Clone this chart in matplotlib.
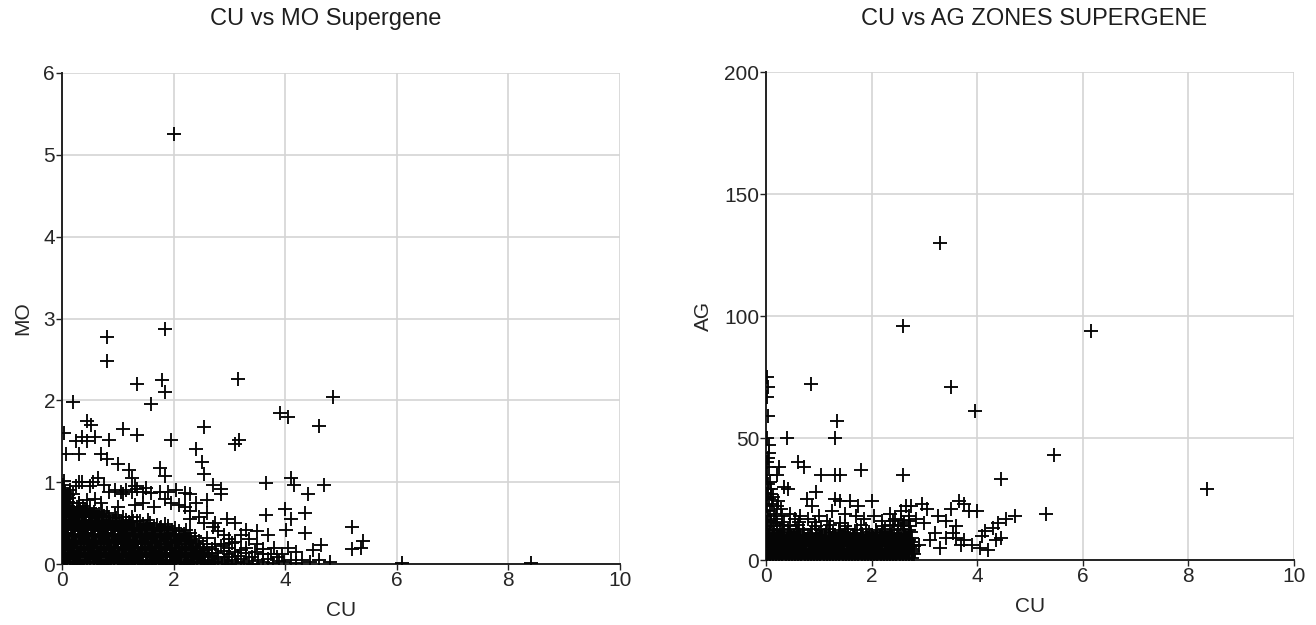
import matplotlib
matplotlib.use("Agg")
import matplotlib.pyplot as plt

# ---------------- data: CU vs MO (left) ----------------
mo_outliers = [
    (2.0, 5.25), (0.8, 2.78), (1.85, 2.87), (0.8, 2.48), (1.35, 2.2), (1.8, 2.25),
    (1.85, 2.1), (1.6, 1.96), (0.2, 1.98), (3.15, 2.26), (4.85, 2.04), (3.9, 1.84),
    (4.05, 1.8), (4.6, 1.69), (2.55, 1.68), (1.1, 1.65), (1.35, 1.58), (1.95, 1.52),
    (3.1, 1.47), (3.17, 1.52), (2.4, 1.41), (2.5, 1.25), (2.55, 1.1), (0.45, 1.75),
    (0.52, 1.7), (0.35, 1.55), (0.25, 1.5), (0.45, 1.5), (0.6, 1.55), (0.85, 1.52),
    (0.03, 1.6), (0.08, 1.35), (0.3, 1.35), (0.7, 1.35), (0.8, 1.28), (1.0, 1.22),
    (1.2, 1.15), (1.25, 1.05), (1.75, 1.17), (1.85, 1.07), (0.3, 1.0), (0.65, 1.05),
    (0.75, 0.97), (2.7, 0.97), (2.85, 0.92), (3.65, 0.99), (4.1, 1.05), (4.15, 0.96),
    (4.4, 0.85), (4.7, 0.97), (2.85, 0.85), (2.4, 0.75), (2.6, 0.78), (3.65, 0.6),
    (4.0, 0.67), (4.1, 0.55), (4.35, 0.62), (4.02, 0.42), (4.35, 0.38), (5.2, 0.45),
    (5.4, 0.28), (5.35, 0.2), (5.2, 0.18), (4.65, 0.23), (4.5, 0.17), (4.2, 0.15),
    (4.05, 0.2), (3.8, 0.2), (6.1, 0.01), (8.4, 0.01), (3.1, 0.5), (3.3, 0.42),
    (3.5, 0.4), (3.7, 0.35), (2.95, 0.55), (2.75, 0.5), (2.6, 0.62),
]

mo_scatter = [
    (0.45, 0.78), (0.6, 0.8), (0.85, 0.88), (0.95, 0.9), (1.05, 0.88), (1.15, 0.9),
    (1.25, 0.88), (1.35, 0.92), (1.45, 0.88), (1.6, 0.87), (1.75, 0.88), (1.9, 0.88),
    (2.05, 0.9), (2.2, 0.87), (2.3, 0.86), (1.1, 0.85), (1.3, 0.95), (1.5, 0.93),
    (1.85, 0.8), (1.95, 0.75), (2.1, 0.72), (2.2, 0.7), (1.45, 0.75), (1.3, 0.72),
    (1.65, 0.7), (1.0, 0.7), (0.7, 0.75), (2.3, 0.65), (2.45, 0.58), (2.55, 0.5),
    (2.3, 0.55), (2.7, 0.45), (2.8, 0.4), (2.9, 0.35), (3.0, 0.3), (3.1, 0.27),
    (3.2, 0.35), (3.35, 0.3), (3.5, 0.25), (3.6, 0.18), (3.75, 0.12), (3.85, 0.08),
    (3.95, 0.12), (4.3, 0.05), (4.6, 0.05), (4.8, 0.03), (3.3, 0.2), (3.45, 0.15),
    (3.0, 0.2), (2.9, 0.25), (3.1, 0.15), (0.6, 0.6), (0.3, 0.75), (0.2, 0.85),
    (0.15, 0.9), (0.25, 0.95), (0.35, 1.0), (0.5, 0.95), (0.55, 1.0), (0.02, 0.97),
    (0.04, 1.02), (0.01, 0.9), (0.05, 0.88), (0.02, 0.85), (0.08, 0.82),
    (0.03, 0.93), (0.06, 0.86), (0.1, 0.84), (0.04, 0.78), (0.09, 0.74), (0.12, 0.7),
]

mo_core = [
    (0.03, 0.01), (0.14, 0.02), (0.27, 0.0), (0.39, 0.01), (0.5, 0.02), (0.63, 0.01),
    (0.75, 0.0), (0.88, 0.02), (1.0, 0.01), (1.12, 0.0), (1.25, 0.02), (1.37, 0.01),
    (1.5, 0.0), (1.62, 0.02), (1.74, 0.01), (1.87, 0.0), (1.99, 0.02), (2.11, 0.01),
    (2.24, 0.0), (2.36, 0.02), (2.49, 0.01), (2.61, 0.0), (2.73, 0.02), (2.86, 0.01),
    (2.98, 0.0), (3.12, 0.02), (3.27, 0.01), (3.43, 0.0), (3.6, 0.02), (3.79, 0.01),
    (3.98, 0.02), (4.2, 0.01), (4.45, 0.03),
    (0.08, 0.05), (0.2, 0.06), (0.33, 0.04), (0.45, 0.05), (0.57, 0.06), (0.7, 0.04),
    (0.82, 0.05), (0.94, 0.06), (1.07, 0.04), (1.19, 0.05), (1.31, 0.06), (1.44, 0.04),
    (1.56, 0.05), (1.68, 0.06), (1.81, 0.04), (1.93, 0.05), (2.05, 0.06), (2.18, 0.04),
    (2.3, 0.05), (2.42, 0.06), (2.55, 0.04), (2.67, 0.05), (2.79, 0.06), (2.92, 0.04),
    (3.05, 0.05), (3.2, 0.06), (3.35, 0.04), (3.52, 0.05), (3.7, 0.06), (3.88, 0.04),
    (4.1, 0.05),
    (0.02, 0.09), (0.12, 0.1), (0.24, 0.08), (0.36, 0.09), (0.48, 0.1), (0.6, 0.08),
    (0.72, 0.09), (0.85, 0.1), (0.97, 0.08), (1.09, 0.09), (1.21, 0.1), (1.34, 0.08),
    (1.46, 0.09), (1.58, 0.1), (1.71, 0.08), (1.83, 0.09), (1.95, 0.1), (2.08, 0.08),
    (2.2, 0.09), (2.32, 0.1), (2.45, 0.08), (2.57, 0.09), (2.69, 0.1), (2.8, 0.08),
    (2.95, 0.09), (3.15, 0.1), (3.4, 0.08),
    (0.06, 0.13), (0.18, 0.14), (0.3, 0.12), (0.42, 0.13), (0.54, 0.14), (0.66, 0.12),
    (0.79, 0.13), (0.91, 0.14), (1.03, 0.12), (1.15, 0.13), (1.28, 0.14), (1.4, 0.12),
    (1.52, 0.13), (1.65, 0.14), (1.77, 0.12), (1.89, 0.13), (2.02, 0.14), (2.14, 0.12),
    (2.26, 0.13), (2.39, 0.14), (2.51, 0.12), (2.63, 0.13), (2.76, 0.14), (3.0, 0.12),
    (3.3, 0.13), (3.6, 0.12),
    (0.01, 0.17), (0.1, 0.18), (0.22, 0.16), (0.34, 0.17), (0.46, 0.18), (0.58, 0.16),
    (0.7, 0.17), (0.82, 0.18), (0.95, 0.16), (1.07, 0.17), (1.19, 0.18), (1.31, 0.16),
    (1.44, 0.17), (1.56, 0.18), (1.68, 0.16), (1.8, 0.17), (1.93, 0.18), (2.05, 0.16),
    (2.17, 0.17), (2.3, 0.18), (2.42, 0.16), (2.55, 0.17), (2.68, 0.18), (2.9, 0.16),
    (3.2, 0.17),
    (0.04, 0.21), (0.15, 0.22), (0.27, 0.2), (0.39, 0.21), (0.51, 0.22), (0.63, 0.2),
    (0.76, 0.21), (0.88, 0.22), (1.0, 0.2), (1.12, 0.21), (1.24, 0.22), (1.37, 0.2),
    (1.49, 0.21), (1.61, 0.22), (1.73, 0.2), (1.86, 0.21), (1.98, 0.22), (2.1, 0.2),
    (2.22, 0.21), (2.35, 0.22), (2.47, 0.2), (2.6, 0.21), (2.85, 0.22),
    (0.08, 0.25), (0.2, 0.26), (0.32, 0.24), (0.44, 0.25), (0.56, 0.26), (0.68, 0.24),
    (0.8, 0.25), (0.93, 0.26), (1.05, 0.24), (1.17, 0.25), (1.29, 0.26), (1.41, 0.24),
    (1.54, 0.25), (1.66, 0.26), (1.78, 0.24), (1.9, 0.25), (2.03, 0.26), (2.15, 0.24),
    (2.27, 0.25), (2.4, 0.26), (2.52, 0.24), (2.75, 0.25), (3.05, 0.26),
    (0.02, 0.29), (0.13, 0.3), (0.25, 0.28), (0.37, 0.29), (0.49, 0.3), (0.61, 0.28),
    (0.73, 0.29), (0.85, 0.3), (0.98, 0.28), (1.1, 0.29), (1.22, 0.3), (1.34, 0.28),
    (1.46, 0.29), (1.59, 0.3), (1.71, 0.28), (1.83, 0.29), (1.95, 0.3), (2.08, 0.28),
    (2.2, 0.29), (2.32, 0.3), (2.45, 0.28),
    (0.06, 0.33), (0.18, 0.34), (0.3, 0.32), (0.42, 0.33), (0.54, 0.34), (0.66, 0.32),
    (0.78, 0.33), (0.9, 0.34), (1.02, 0.32), (1.15, 0.33), (1.27, 0.34), (1.39, 0.32),
    (1.51, 0.33), (1.63, 0.34), (1.76, 0.32), (1.88, 0.33), (2.0, 0.34), (2.12, 0.32),
    (2.25, 0.33), (2.38, 0.34), (2.6, 0.32),
    (0.01, 0.37), (0.11, 0.38), (0.23, 0.36), (0.35, 0.37), (0.47, 0.38), (0.59, 0.36),
    (0.71, 0.37), (0.83, 0.38), (0.95, 0.36), (1.07, 0.37), (1.2, 0.38), (1.32, 0.36),
    (1.44, 0.37), (1.56, 0.38), (1.68, 0.36), (1.8, 0.37), (1.93, 0.38), (2.05, 0.36),
    (2.18, 0.37), (2.3, 0.38),
    (0.05, 0.41), (0.16, 0.42), (0.28, 0.4), (0.4, 0.41), (0.52, 0.42), (0.64, 0.4),
    (0.76, 0.41), (0.88, 0.42), (1.0, 0.4), (1.12, 0.41), (1.24, 0.42), (1.36, 0.4),
    (1.48, 0.41), (1.6, 0.42), (1.72, 0.4), (1.85, 0.41), (1.97, 0.42), (2.1, 0.4),
    (2.22, 0.41),
    (0.02, 0.45), (0.1, 0.46), (0.21, 0.44), (0.33, 0.45), (0.45, 0.46), (0.57, 0.44),
    (0.69, 0.45), (0.81, 0.46), (0.93, 0.44), (1.05, 0.45), (1.17, 0.46), (1.29, 0.44),
    (1.41, 0.45), (1.53, 0.46), (1.65, 0.44), (1.77, 0.45), (1.9, 0.46), (2.02, 0.44),
    (0.06, 0.49), (0.15, 0.5), (0.26, 0.48), (0.38, 0.49), (0.5, 0.5), (0.62, 0.48),
    (0.74, 0.49), (0.86, 0.5), (0.98, 0.48), (1.1, 0.49), (1.22, 0.5), (1.34, 0.48),
    (1.46, 0.49), (1.58, 0.5), (1.7, 0.48), (1.85, 0.49),
    (0.01, 0.53), (0.09, 0.54), (0.2, 0.52), (0.31, 0.53), (0.43, 0.54), (0.55, 0.52),
    (0.67, 0.53), (0.79, 0.54), (0.91, 0.52), (1.03, 0.53), (1.15, 0.54), (1.27, 0.52),
    (1.4, 0.53), (1.55, 0.54),
    (0.04, 0.57), (0.13, 0.58), (0.24, 0.56), (0.36, 0.57), (0.48, 0.58), (0.6, 0.56),
    (0.72, 0.57), (0.84, 0.58), (0.96, 0.56), (1.1, 0.57), (1.25, 0.58),
    (0.02, 0.61), (0.08, 0.62), (0.18, 0.6), (0.29, 0.61), (0.41, 0.62), (0.53, 0.6),
    (0.66, 0.61), (0.8, 0.62), (0.95, 0.6),
    (0.05, 0.65), (0.12, 0.66), (0.22, 0.64), (0.33, 0.65), (0.45, 0.66), (0.58, 0.64),
    (0.72, 0.65),
    (0.01, 0.7), (0.07, 0.71), (0.15, 0.69), (0.26, 0.7), (0.38, 0.71), (0.5, 0.69),
    (0.03, 0.75), (0.1, 0.76), (0.19, 0.74), (0.3, 0.75),
    (0.01, 0.8), (0.06, 0.79), (0.13, 0.81),
]

mo_fill = [
    (0.09, 0.03), (0.21, 0.03), (0.33, 0.02), (0.45, 0.03), (0.57, 0.03), (0.69, 0.02),
    (0.81, 0.03), (0.93, 0.03), (1.05, 0.02), (1.17, 0.03), (1.29, 0.03), (1.41, 0.02),
    (1.53, 0.03), (1.65, 0.03), (1.77, 0.02), (1.89, 0.03), (2.01, 0.03), (2.13, 0.02),
    (2.25, 0.03), (2.37, 0.03), (2.49, 0.02), (2.61, 0.03), (2.75, 0.03),
    (0.07, 0.11), (0.19, 0.11), (0.31, 0.1), (0.43, 0.11), (0.55, 0.11), (0.67, 0.1),
    (0.79, 0.11), (0.91, 0.11), (1.03, 0.1), (1.15, 0.11), (1.27, 0.11), (1.39, 0.1),
    (1.51, 0.11), (1.63, 0.11), (1.75, 0.1), (1.87, 0.11), (1.99, 0.11), (2.11, 0.1),
    (2.23, 0.11), (2.35, 0.11), (2.47, 0.1), (2.62, 0.11),
    (0.05, 0.19), (0.16, 0.19), (0.28, 0.2), (0.4, 0.19), (0.52, 0.19), (0.64, 0.2),
    (0.76, 0.19), (0.88, 0.19), (1.0, 0.2), (1.13, 0.19), (1.25, 0.19), (1.37, 0.2),
    (1.49, 0.19), (1.61, 0.19), (1.73, 0.2), (1.85, 0.19), (1.97, 0.19), (2.09, 0.2),
    (2.21, 0.19), (2.33, 0.19), (2.48, 0.2),
    (0.1, 0.27), (0.22, 0.27), (0.34, 0.28), (0.46, 0.27), (0.58, 0.27), (0.7, 0.28),
    (0.82, 0.27), (0.94, 0.27), (1.06, 0.28), (1.18, 0.27), (1.3, 0.27), (1.42, 0.28),
    (1.54, 0.27), (1.66, 0.27), (1.78, 0.28), (1.9, 0.27), (2.02, 0.27), (2.14, 0.28),
    (2.3, 0.27),
    (0.08, 0.35), (0.2, 0.35), (0.32, 0.36), (0.44, 0.35), (0.56, 0.35), (0.68, 0.36),
    (0.8, 0.35), (0.92, 0.35), (1.04, 0.36), (1.16, 0.35), (1.28, 0.35), (1.4, 0.36),
    (1.52, 0.35), (1.64, 0.35), (1.76, 0.36), (1.88, 0.35), (2.0, 0.35), (2.15, 0.36),
    (0.07, 0.43), (0.18, 0.43), (0.3, 0.44), (0.42, 0.43), (0.54, 0.43), (0.66, 0.44),
    (0.78, 0.43), (0.9, 0.43), (1.02, 0.44), (1.14, 0.43), (1.26, 0.43), (1.38, 0.44),
    (1.5, 0.43), (1.62, 0.43), (1.75, 0.44), (1.9, 0.43),
    (0.04, 0.51), (0.12, 0.51), (0.24, 0.52), (0.36, 0.51), (0.48, 0.51), (0.6, 0.52),
    (0.72, 0.51), (0.84, 0.51), (0.96, 0.52), (1.08, 0.51), (1.2, 0.51), (1.35, 0.52),
    (0.06, 0.59), (0.15, 0.59), (0.27, 0.6), (0.39, 0.59), (0.51, 0.59), (0.63, 0.6),
    (0.75, 0.59),
    (0.03, 0.67), (0.09, 0.68), (0.18, 0.67), (0.3, 0.68), (0.42, 0.67),
]

# ---------------- data: CU vs AG (right) ----------------
ag_outliers = [
    (3.3, 130), (2.6, 96), (6.15, 94), (0.85, 72), (3.5, 71), (3.95, 61), (1.35, 57),
    (1.3, 50), (0.4, 50), (5.45, 43), (4.45, 33), (8.35, 29), (2.6, 35), (1.8, 37),
    (1.3, 35), (1.4, 35), (1.05, 35), (0.6, 40), (0.72, 38), (0.25, 38), (0.2, 35),
    (0.35, 30), (0.42, 29), (0.95, 28), (0.78, 25), (0.88, 22), (1.3, 25), (1.4, 24),
    (1.6, 24), (1.75, 22), (2.0, 24), (5.3, 19), (4.72, 18), (4.55, 17), (4.4, 15),
    (4.3, 13), (4.0, 20), (3.75, 23), (3.65, 24), (3.85, 20), (3.5, 21), (3.4, 16),
    (3.6, 14), (3.2, 11), (3.4, 9), (3.75, 8), (3.7, 6), (3.9, 6), (4.05, 5),
    (4.1, 10), (4.15, 12), (4.45, 9), (4.35, 8), (3.05, 21), (2.95, 23), (2.75, 22),
    (2.65, 22), (2.85, 17), (3.0, 15), (3.1, 8), (2.9, 6), (3.25, 18), (3.55, 11),
    (3.3, 5), (3.6, 9), (4.2, 4),
]

ag_column = [
    (0.02, 75), (0.03, 71), (0.02, 67), (0.04, 59), (0.02, 50), (0.06, 47), (0.03, 42),
    (0.05, 38), (0.02, 35), (0.08, 32), (0.03, 29), (0.1, 27), (0.05, 25), (0.12, 23),
    (0.02, 22), (0.07, 20), (0.15, 19), (0.04, 18), (0.18, 17), (0.1, 16), (0.22, 24),
    (0.28, 21), (0.3, 18), (0.45, 19), (0.55, 17), (0.65, 18), (0.8, 17), (1.0, 18),
    (1.15, 16), (1.25, 20), (1.5, 19), (1.7, 18), (1.85, 17), (2.05, 18), (2.2, 16),
    (2.35, 19), (2.45, 17), (2.55, 20), (2.7, 18), (2.62, 15),
    (0.01, 27), (0.04, 31), (0.02, 40), (0.06, 44), (0.09, 29), (0.13, 26), (0.2, 22),
]

ag_core = [
    (0.02, 0.5), (0.13, 1.0), (0.25, 0.3), (0.37, 0.8), (0.49, 0.5), (0.61, 1.0),
    (0.73, 0.3), (0.85, 0.8), (0.97, 0.5), (1.09, 1.0), (1.21, 0.3), (1.33, 0.8),
    (1.45, 0.5), (1.57, 1.0), (1.69, 0.3), (1.81, 0.8), (1.93, 0.5), (2.05, 1.0),
    (2.17, 0.3), (2.29, 0.8), (2.41, 0.5), (2.53, 1.0), (2.65, 0.3), (2.77, 0.8),
    (0.07, 2.2), (0.19, 2.6), (0.31, 1.9), (0.43, 2.4), (0.55, 2.1), (0.67, 2.6),
    (0.79, 1.9), (0.91, 2.4), (1.03, 2.1), (1.15, 2.6), (1.27, 1.9), (1.39, 2.4),
    (1.51, 2.1), (1.63, 2.6), (1.75, 1.9), (1.87, 2.4), (1.99, 2.1), (2.11, 2.6),
    (2.23, 1.9), (2.35, 2.4), (2.47, 2.1), (2.59, 2.6), (2.71, 1.9), (2.8, 2.4),
    (0.03, 3.8), (0.15, 3.3), (0.27, 3.9), (0.39, 3.5), (0.51, 3.2), (0.63, 3.8),
    (0.75, 3.4), (0.87, 3.9), (0.99, 3.3), (1.11, 3.7), (1.23, 3.2), (1.35, 3.8),
    (1.47, 3.4), (1.59, 3.9), (1.71, 3.3), (1.83, 3.7), (1.95, 3.2), (2.07, 3.8),
    (2.19, 3.4), (2.31, 3.9), (2.43, 3.3), (2.55, 3.7), (2.67, 3.2), (2.78, 3.8),
    (0.09, 5.2), (0.21, 4.8), (0.33, 5.4), (0.45, 4.9), (0.57, 5.3), (0.69, 4.7),
    (0.81, 5.2), (0.93, 4.8), (1.05, 5.4), (1.17, 4.9), (1.29, 5.3), (1.41, 4.7),
    (1.53, 5.2), (1.65, 4.8), (1.77, 5.4), (1.89, 4.9), (2.01, 5.3), (2.13, 4.7),
    (2.25, 5.2), (2.37, 4.8), (2.49, 5.4), (2.61, 4.9), (2.73, 5.3),
    (0.02, 6.6), (0.14, 6.2), (0.26, 6.8), (0.38, 6.4), (0.5, 6.9), (0.62, 6.3),
    (0.74, 6.7), (0.86, 6.2), (0.98, 6.8), (1.1, 6.4), (1.22, 6.9), (1.34, 6.3),
    (1.46, 6.7), (1.58, 6.2), (1.7, 6.8), (1.82, 6.4), (1.94, 6.9), (2.06, 6.3),
    (2.18, 6.7), (2.3, 6.2), (2.42, 6.8), (2.54, 6.4), (2.66, 6.9), (2.79, 6.3),
    (0.06, 8.1), (0.18, 7.8), (0.3, 8.3), (0.42, 7.9), (0.54, 8.4), (0.66, 7.7),
    (0.78, 8.2), (0.9, 7.8), (1.02, 8.3), (1.14, 7.9), (1.26, 8.4), (1.38, 7.7),
    (1.5, 8.2), (1.62, 7.8), (1.74, 8.3), (1.86, 7.9), (1.98, 8.4), (2.1, 7.7),
    (2.22, 8.2), (2.34, 7.8), (2.46, 8.3), (2.58, 7.9), (2.7, 8.4),
    (0.03, 9.6), (0.11, 9.3), (0.23, 9.8), (0.35, 9.4), (0.47, 9.9), (0.59, 9.2),
    (0.71, 9.7), (0.83, 9.3), (0.95, 9.8), (1.07, 9.4), (1.19, 9.9), (1.31, 9.2),
    (1.43, 9.7), (1.55, 9.3), (1.67, 9.8), (1.79, 9.4), (1.91, 9.9), (2.03, 9.2),
    (2.15, 9.7), (2.27, 9.3), (2.39, 9.8), (2.51, 9.4), (2.63, 9.9), (2.76, 9.2),
    (0.08, 11.2), (0.2, 10.8), (0.32, 11.4), (0.44, 10.9), (0.58, 11.3), (0.72, 10.7),
    (0.86, 11.2), (1.0, 10.8), (1.13, 11.4), (1.27, 10.9), (1.4, 11.3), (1.54, 10.7),
    (1.68, 11.2), (1.82, 10.8), (1.96, 11.4), (2.1, 10.9), (2.24, 11.3), (2.38, 10.7),
    (2.5, 11.2), (2.62, 10.8), (2.74, 11.4),
    (0.02, 12.6), (0.14, 12.3), (0.27, 12.8), (0.41, 12.4), (0.56, 12.9), (0.7, 12.2),
    (0.88, 12.7), (1.05, 12.3), (1.2, 12.8), (1.38, 12.4), (1.55, 12.9), (1.72, 12.2),
    (1.9, 12.7), (2.08, 12.3), (2.26, 12.8), (2.42, 12.4), (2.56, 12.9), (2.7, 12.2),
    (0.05, 14.1), (0.16, 13.8), (0.3, 14.3), (0.45, 13.9), (0.6, 14.2), (0.95, 13.8),
    (1.22, 14.3), (1.5, 13.9), (1.8, 14.2), (2.2, 13.8), (2.35, 14.3), (2.5, 13.9),
    (2.6, 14.4), (2.72, 13.8),
    (0.02, 15.5), (0.1, 15.8), (0.2, 15.2), (0.35, 15.6), (0.62, 15.4), (0.92, 15.7),
    (1.4, 15.3), (2.4, 15.8), (2.55, 16.5), (2.7, 16.0),
]

ag_fill = [
    (0.08, 1.3), (0.19, 1.4), (0.31, 1.2), (0.43, 1.3), (0.55, 1.4), (0.67, 1.2),
    (0.79, 1.3), (0.91, 1.4), (1.03, 1.2), (1.15, 1.3), (1.27, 1.4), (1.39, 1.2),
    (1.51, 1.3), (1.63, 1.4), (1.75, 1.2), (1.87, 1.3), (1.99, 1.4), (2.11, 1.2),
    (2.23, 1.3), (2.35, 1.4), (2.47, 1.2), (2.59, 1.3), (2.71, 1.4),
    (0.04, 2.9), (0.14, 3.0), (0.26, 2.8), (0.38, 2.9), (0.5, 3.0), (0.62, 2.8),
    (0.74, 2.9), (0.86, 3.0), (0.98, 2.8), (1.1, 2.9), (1.22, 3.0), (1.34, 2.8),
    (1.46, 2.9), (1.58, 3.0), (1.7, 2.8), (1.82, 2.9), (1.94, 3.0), (2.06, 2.8),
    (2.18, 2.9), (2.3, 3.0), (2.42, 2.8), (2.54, 2.9), (2.66, 3.0), (2.78, 2.8),
    (0.1, 4.3), (0.22, 4.4), (0.34, 4.2), (0.46, 4.3), (0.58, 4.4), (0.7, 4.2),
    (0.82, 4.3), (0.94, 4.4), (1.06, 4.2), (1.18, 4.3), (1.3, 4.4), (1.42, 4.2),
    (1.54, 4.3), (1.66, 4.4), (1.78, 4.2), (1.9, 4.3), (2.02, 4.4), (2.14, 4.2),
    (2.26, 4.3), (2.38, 4.4), (2.5, 4.2), (2.62, 4.3), (2.76, 4.4),
    (0.05, 5.8), (0.16, 5.9), (0.28, 5.7), (0.4, 5.8), (0.52, 5.9), (0.64, 5.7),
    (0.76, 5.8), (0.88, 5.9), (1.0, 5.7), (1.12, 5.8), (1.24, 5.9), (1.36, 5.7),
    (1.48, 5.8), (1.6, 5.9), (1.72, 5.7), (1.84, 5.8), (1.96, 5.9), (2.08, 5.7),
    (2.2, 5.8), (2.32, 5.9), (2.44, 5.7), (2.56, 5.8), (2.68, 5.9), (2.8, 5.7),
    (0.09, 7.2), (0.21, 7.3), (0.33, 7.1), (0.45, 7.2), (0.57, 7.3), (0.69, 7.1),
    (0.81, 7.2), (0.93, 7.3), (1.05, 7.1), (1.17, 7.2), (1.29, 7.3), (1.41, 7.1),
    (1.53, 7.2), (1.65, 7.3), (1.77, 7.1), (1.89, 7.2), (2.01, 7.3), (2.13, 7.1),
    (2.25, 7.2), (2.37, 7.3), (2.49, 7.1), (2.61, 7.2), (2.74, 7.3),
    (0.04, 8.8), (0.15, 8.9), (0.27, 8.7), (0.39, 8.8), (0.51, 8.9), (0.63, 8.7),
    (0.75, 8.8), (0.87, 8.9), (0.99, 8.7), (1.11, 8.8), (1.23, 8.9), (1.35, 8.7),
    (1.47, 8.8), (1.59, 8.9), (1.71, 8.7), (1.83, 8.8), (1.95, 8.9), (2.07, 8.7),
    (2.19, 8.8), (2.31, 8.9), (2.43, 8.7), (2.55, 8.8), (2.67, 8.9),
    (0.06, 10.2), (0.17, 10.3), (0.29, 10.1), (0.41, 10.2), (0.53, 10.3), (0.65, 10.1),
    (0.8, 10.2), (0.96, 10.3), (1.12, 10.1), (1.3, 10.2), (1.48, 10.3), (1.64, 10.1),
    (1.8, 10.2), (2.0, 10.3), (2.18, 10.1), (2.34, 10.2), (2.48, 10.3), (2.64, 10.1),
]

x_ticks = [0, 2, 4, 6, 8, 10]
mo_ticks = [0, 1, 2, 3, 4, 5, 6]
ag_ticks = [0, 50, 100, 150, 200]

# ---------------- drawing ----------------
plt.rcParams['font.family'] = ['Liberation Sans', 'DejaVu Sans']

fig = plt.figure(figsize=(13.16, 6.25), dpi=100)
ax1 = fig.add_axes([62 / 1316, 1 - 564 / 625, 558 / 1316, 491 / 625])
ax2 = fig.add_axes([766 / 1316, 1 - 560 / 625, 528 / 1316, 488 / 625])

mk = dict(marker='+', s=95, c='#050505', linewidths=1.35, zorder=3)


def unzip(pairs):
    return [p[0] for p in pairs], [p[1] for p in pairs]


for grp in (mo_core, mo_fill, mo_scatter, mo_outliers):
    xs, ys = unzip(grp)
    ax1.scatter(xs, ys, **mk)
for grp in (ag_core, ag_fill, ag_column, ag_outliers):
    xs, ys = unzip(grp)
    ax2.scatter(xs, ys, **mk)

for ax, yt, ylab in ((ax1, mo_ticks, 'MO'), (ax2, ag_ticks, 'AG')):
    ax.set_xlim(0, 10)
    ax.set_ylim(yt[0], yt[-1])
    ax.set_xticks(x_ticks)
    ax.set_yticks(yt)
    ax.grid(True, color='#d4d4d4', linewidth=1.2, zorder=0)
    ax.set_axisbelow(True)
    for s in ('top', 'right'):
        ax.spines[s].set_visible(False)
    for s in ('left', 'bottom'):
        ax.spines[s].set_linewidth(1.4)
        ax.spines[s].set_color('#222222')
    ax.tick_params(direction='out', length=4, width=1.0, labelsize=15,
                   labelcolor='#262626', color='#222222', pad=1)
    ax.set_xlabel('CU', fontsize=15, color='#262626', labelpad=8)
    ax.set_ylabel(ylab, fontsize=15, color='#262626', labelpad=8)

fig.text(326 / 1316, 1 - 19 / 625, 'CU vs MO Supergene', ha='center', va='center',
         fontsize=17, color='#1e1e1e')
fig.text(1034 / 1316, 1 - 19 / 625, 'CU vs AG ZONES SUPERGENE', ha='center',
         va='center', fontsize=17, color='#1e1e1e')

fig.savefig('out.png', dpi=100)
